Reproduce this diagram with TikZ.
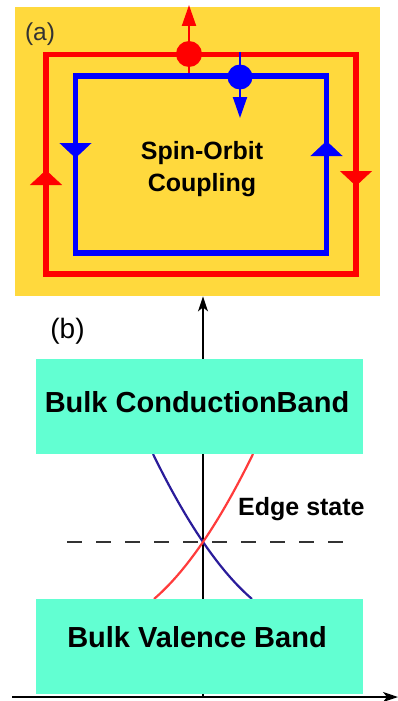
\documentclass[tikz,border=0pt]{standalone}
\usepackage{fontspec}
\setmainfont{Liberation Sans}
\usepackage{xcolor}
\usepackage{tikz}
\usetikzlibrary{arrows.meta,positioning,calc}
\definecolor{SocYellow}{HTML}{FFD93D}
\definecolor{SocRed}{HTML}{FF0000}
\definecolor{SocBlue}{HTML}{0000FF}
\definecolor{SocBand}{HTML}{62FFD2}
\definecolor{SocNavy}{HTML}{2A1C9A}
\definecolor{SocSalmon}{HTML}{FF3B3B}
\definecolor{SocInk}{HTML}{333333}
\colorlet{SocSpinUp}{SocRed}
\colorlet{SocSpinDown}{SocBlue}

\tikzset{
  loopline/.style={line width=5.5pt, line join=miter},
  flowtip/.style={-{Triangle[width=32pt,length=15pt]}, line width=0.4pt},
  spintip/.style={-{Triangle[width=14pt,length=21pt]}, line width=2pt},
  bandbox/.style={fill=SocBand, minimum width=327pt, minimum height=95pt,
        inner sep=0pt, anchor=north west},
  bandtext/.style={font=\bfseries\fontsize{29}{34}\selectfont, inner sep=0pt},
  axisline/.style={-{Stealth[length=15pt,width=10pt,inset=4pt]}, line width=1.3pt}
}

\begin{document}
\begin{tikzpicture}[x=1pt, y=-1pt]
  \useasboundingbox (0,0) rectangle (398,701);

  \node[fill=SocYellow, minimum width=365pt, minimum height=289pt, inner sep=0pt,
        anchor=north west] (panela) at (15,7) {};
  \node[text=SocInk, font=\fontsize{24.5}{29}\selectfont, inner sep=0pt] (labela) at (40,34) {(a)};

  \draw[SocSpinUp, loopline] (46,54.5) rectangle (356,274);
  \draw[SocSpinDown, loopline] (75.5,76) rectangle (326.5,253);
  \draw[SocSpinUp, flowtip] (46,185) -- (46,170);
  \draw[SocSpinUp, flowtip] (356,171) -- (356,186);
  \draw[SocSpinDown, flowtip] (75.5,142) -- (75.5,158);
  \draw[SocSpinDown, flowtip] (326.5,157) -- (326.5,141);

  \draw[SocSpinUp, spintip] (189,73) -- (189,5);
  \fill[SocSpinUp] (189,54) circle (13pt);
  \draw[SocSpinDown, spintip] (240,52) -- (240,118);
  \fill[SocSpinDown] (240,77) circle (12.5pt);

  \node[font=\bfseries\fontsize{25}{32}\selectfont, align=center, inner sep=0pt]
    (soc) at (202,169) {Spin-Orbit\\Coupling};

  \node[font=\fontsize{28}{33}\selectfont, inner sep=0pt] (labelb) at (67.5,331) {(b)};

  \coordinate (origin) at (203,697);
  \coordinate (xstart) at (12,697);
  \coordinate (xend) at (398,697);
  \draw[axisline] (xstart) -- (xend);
  \draw[axisline] (origin) -- (origin |- panela.south);

  \draw[black!80, line width=1.3pt, dash pattern=on 15pt off 14pt] (67,542) -- (347,542);
  \draw[SocNavy, line width=2.2pt] (153,454) .. controls (186.7,523) and (219.7,571.3) .. (252,599);
  \draw[SocSalmon, line width=2.2pt] (154,599) .. controls (186.3,571.3) and (219.3,523) .. (253,454);

  \node[bandbox] (cband) at (36,359) {};
  \node[bandbox] (vband) at (36,599) {};
  \node[bandtext] (ctext) at (197,402) {Bulk ConductionBand};
  \node[bandtext] (vtext) at (197,637) {Bulk Valence Band};
  \node[font=\bfseries\fontsize{25}{30}\selectfont, inner sep=0pt, anchor=base west]
    (edge) at (238,515) {Edge state};
\end{tikzpicture}
\end{document}
